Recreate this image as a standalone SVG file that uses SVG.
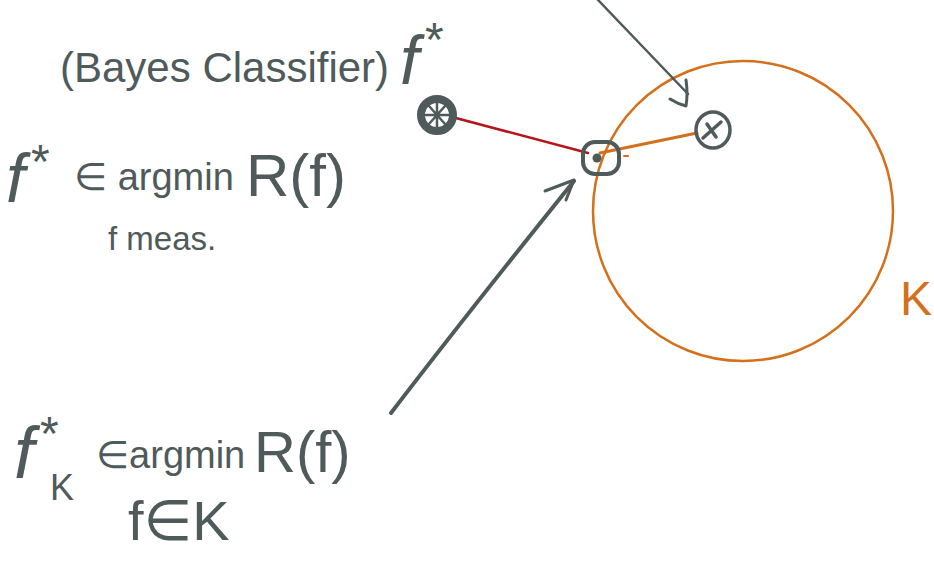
<svg xmlns="http://www.w3.org/2000/svg" width="934" height="567" viewBox="0 0 934 567">
<style>
.t{font-family:"Liberation Sans","DejaVu Sans",sans-serif;fill:#4f5a5a}
.ink{fill:none;stroke:#4f5a5a;stroke-linecap:round;stroke-linejoin:round}
.or{fill:none;stroke:#d4701c;stroke-linecap:round}
</style>
<rect width="934" height="567" fill="#fff"/>
<g id="title">
<text class="t" x="60" y="82" font-size="42">(Bayes Classifier)</text>
<text class="t" x="400" y="84" font-size="68" font-style="italic">f<tspan font-size="48" font-style="normal" dx="6" dy="-28">*</tspan></text>
</g>
<g id="bayes-def">
<text class="t" x="6" y="202" font-size="68" font-style="italic">f<tspan font-size="48" font-style="normal" dx="6" dy="-24">*</tspan></text>
<text class="t" x="74" y="190" font-size="38">∈ argmin</text>
<text class="t" x="246" y="196" font-size="60">R(f)</text>
<text class="t" x="108" y="250" font-size="33">f meas.</text>
</g>
<g id="restricted-def">
<text class="t" x="14" y="478" font-size="72" font-style="italic">f<tspan font-size="48" font-style="normal" dx="6" dy="-28">*</tspan><tspan font-size="36" font-style="normal" x="50" dy="50">K</tspan></text>
<text class="t" x="96" y="468" font-size="38">∈argmin</text>
<text class="t" x="254" y="472" font-size="58">R(f)</text>
<text class="t" x="128" y="540" font-size="56">f∈K</text>
</g>
<g id="class-K">
<circle class="or" cx="743" cy="211" r="150" stroke-width="2.5"/>
<text x="900" y="315" font-family="Liberation Sans,DejaVu Sans,sans-serif" font-size="48" fill="#d4701c">K</text>
</g>
<g id="connectors">
<line x1="452" y1="117" x2="588" y2="153" stroke="#b5141a" stroke-width="2.5" stroke-linecap="round"/>
<line class="or" x1="600" y1="153" x2="697" y2="133" stroke-width="3"/>
<line class="or" x1="624" y1="156" x2="628" y2="156" stroke-width="2"/>
<path class="ink" d="M598 0 L688 94" stroke-width="2.5"/>
<path class="ink" d="M670 99 Q678 104 686 106 Q688 94 686 80" stroke-width="3"/>
<path class="ink" d="M391 413 Q470 310 574 181" stroke-width="4"/>
<path class="ink" d="M545 191 L574 180 L566 200" stroke-width="3"/>
</g>
<g id="bayes-point">
<circle cx="437" cy="115" r="16" fill="none" stroke="#4f5a5a" stroke-width="8"/>
<path class="ink" d="M437 103 V127 M426 115 H449 M429 106 L445 124 M445 106 L429 124" stroke-width="2.5"/>
</g>
<g id="fK-point">
<rect x="583" y="142" width="36" height="32" rx="12" class="ink" stroke-width="4"/>
<circle cx="597" cy="158" r="4.5" fill="#4f5a5a"/>
</g>
<g id="x-point">
<ellipse cx="713" cy="130" rx="17" ry="18" class="ink" stroke-width="3.5"/>
<path class="ink" d="M703 138 L721 122 M707 124 L716 137" stroke-width="3.5"/>
</g>
</svg>
